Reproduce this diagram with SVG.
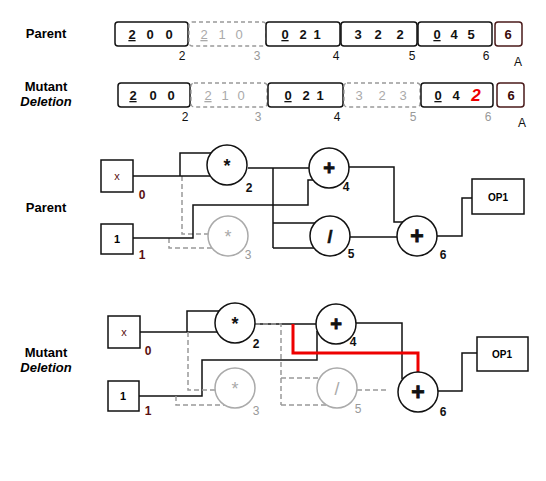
<svg xmlns="http://www.w3.org/2000/svg" width="546" height="481" viewBox="0 0 546 481">
<style>
text{font-family:"Liberation Sans",Arial,sans-serif}
.lbl{font-size:13px;font-weight:bold;text-anchor:middle}
.gene{fill:#fff;stroke:#111;stroke-width:1.5}
.gA{fill:#fff;stroke:#4a1a1a;stroke-width:1.5}
.gdel{fill:none;stroke:#999;stroke-width:1.3;stroke-dasharray:4 3}
.gt{font-size:13px;font-weight:bold;text-anchor:middle;fill:#111}
.gtA{font-size:13px;font-weight:bold;text-anchor:middle;fill:#3a0a0a}
.gtd{font-size:13px;text-anchor:middle;fill:#aaa}
.num{font-size:12px;text-anchor:middle;fill:#111}
.numd{font-size:12px;text-anchor:middle;fill:#999}
.op{fill:#fff;stroke:#111;stroke-width:1.5}
.opd{fill:#fff;stroke:#aaa;stroke-width:1.5}
.sym{font-size:18px;font-weight:bold;text-anchor:middle;fill:#111}
.plus{font-weight:bold;text-anchor:middle;fill:#111;stroke:#111;stroke-width:0.8}
.symd{font-size:18px;text-anchor:middle;fill:#aaa}
.nl{font-size:12px;font-weight:bold;text-anchor:middle;fill:#111}
.nlr{font-size:12px;font-weight:bold;text-anchor:middle;fill:#5a1010}
.nld{font-size:12px;text-anchor:middle;fill:#999}
.w{fill:none;stroke:#111;stroke-width:1.5}
.wd{fill:none;stroke:#999;stroke-width:1.5;stroke-dasharray:5 3}
.wr{fill:none;stroke:#e00;stroke-width:3}
</style>

<!-- row labels -->
<text class="lbl" x="46" y="38">Parent</text>
<text class="lbl" x="46" y="91">Mutant</text>
<text class="lbl" x="46" y="106" font-style="italic">Deletion</text>
<text class="lbl" x="46" y="212">Parent</text>
<text class="lbl" x="46" y="357">Mutant</text>
<text class="lbl" x="46" y="372" font-style="italic">Deletion</text>

<!-- Parent genome -->
<g id="parent-genome">
  <rect class="gene" x="115" y="22" width="73" height="24" rx="3"/>
  <text class="gt" y="39"><tspan x="132" text-decoration="underline">2</tspan><tspan x="150">0</tspan><tspan x="169">0</tspan></text>
  <rect class="gdel" x="189" y="22" width="77" height="24" rx="3"/>
  <text class="gtd" y="39"><tspan x="204" text-decoration="underline">2</tspan><tspan x="222">1</tspan><tspan x="239">0</tspan></text>
  <rect class="gene" x="266" y="22" width="74" height="24" rx="3"/>
  <text class="gt" y="39"><tspan x="285" text-decoration="underline">0</tspan><tspan x="303">2</tspan><tspan x="317">1</tspan></text>
  <rect class="gene" x="341" y="22" width="76" height="24" rx="3"/>
  <text class="gt" y="39"><tspan x="358">3</tspan><tspan x="378">2</tspan><tspan x="400">2</tspan></text>
  <rect class="gene" x="418" y="22" width="74" height="24" rx="3"/>
  <text class="gt" y="39"><tspan x="437" text-decoration="underline">0</tspan><tspan x="454">4</tspan><tspan x="471">5</tspan></text>
  <rect class="gA" x="495" y="22" width="27" height="24" rx="3"/>
  <text class="gtA" x="508" y="39">6</text>
  <text class="num" x="182" y="60">2</text>
  <text class="numd" x="257" y="60">3</text>
  <text class="num" x="336" y="60">4</text>
  <text class="num" x="412" y="60">5</text>
  <text class="num" x="486" y="60">6</text>
  <text class="num" x="518" y="66" font-size="13">A</text>
</g>

<!-- Mutant genome -->
<g id="mutant-genome">
  <rect class="gene" x="118" y="83" width="72" height="24" rx="3"/>
  <text class="gt" y="100"><tspan x="133" text-decoration="underline">2</tspan><tspan x="153">0</tspan><tspan x="171">0</tspan></text>
  <rect class="gdel" x="191" y="83" width="76" height="24" rx="3"/>
  <text class="gtd" y="100"><tspan x="208" text-decoration="underline">2</tspan><tspan x="225">1</tspan><tspan x="241">0</tspan></text>
  <rect class="gene" x="268" y="83" width="75" height="24" rx="3"/>
  <text class="gt" y="100"><tspan x="288" text-decoration="underline">0</tspan><tspan x="306">2</tspan><tspan x="320">1</tspan></text>
  <rect class="gdel" x="344" y="83" width="76" height="24" rx="3"/>
  <text class="gtd" y="100"><tspan x="359">3</tspan><tspan x="382">2</tspan><tspan x="403">3</tspan></text>
  <rect class="gene" x="421" y="83" width="72" height="24" rx="3"/>
  <text class="gt" y="100"><tspan x="438" text-decoration="underline">0</tspan><tspan x="456">4</tspan></text>
  <text x="476" y="101" font-size="17" font-weight="bold" font-style="italic" fill="#e00" text-anchor="middle">2</text>
  <rect class="gA" x="497" y="83" width="27" height="24" rx="3"/>
  <text class="gtA" x="511" y="100">6</text>
  <text class="num" x="185" y="121">2</text>
  <text class="numd" x="258" y="121">3</text>
  <text class="num" x="337" y="121">4</text>
  <text class="numd" x="413" y="121">5</text>
  <text class="numd" x="488" y="121">6</text>
  <text class="num" x="522" y="127" font-size="13">A</text>
</g>

<!-- Parent graph connectors -->
<g id="parent-connectors">
  <path class="wd" d="M182,176 V234 H208"/>
  <path class="wd" d="M169,238 V248 H213"/>
  <path class="w" d="M133,176 H210 M180,176 V153 H212"/>
  <path class="w" d="M133,238 H193 V205 H308 V180 H313"/>
  <path class="w" d="M248,168 H309 M273,168 V248 M273,223 H315 M273,248 H314"/>
  <path class="w" d="M349,167 H394 V222 H403"/>
  <path class="w" d="M350,237 H397"/>
  <path class="w" d="M437,236 H462 V198 H472"/>
</g>

<g id="p-n0"><rect class="op" x="101" y="160" width="32" height="32"/><text x="117" y="180" font-size="11" text-anchor="middle" fill="#5a1010">x</text><text class="nlr" x="142" y="199">0</text></g>
<g id="p-n1"><rect class="op" x="101" y="224" width="32" height="30"/><text x="117" y="243" font-size="11" font-weight="bold" text-anchor="middle">1</text><text class="nlr" x="142" y="259">1</text></g>
<g id="p-n2"><circle class="op" cx="227" cy="165" r="20"/><text class="sym" x="227" y="172">*</text><text class="nl" x="249" y="192">2</text></g>
<g id="p-n3"><circle class="opd" cx="228" cy="236" r="20"/><text class="symd" x="228" y="243">*</text><text class="nld" x="248" y="259">3</text></g>
<g id="p-n4"><circle class="op" cx="329" cy="168" r="20"/><text class="plus" x="329" y="175" font-size="20">+</text><text class="nl" x="346" y="191">4</text></g>
<g id="p-n5"><circle class="op" cx="330" cy="236" r="20"/><text class="sym" x="330" y="243" font-size="20" stroke="#111" stroke-width="0.6">/</text><text class="nl" x="351" y="258">5</text></g>
<g id="p-n6"><circle class="op" cx="417" cy="236" r="20"/><text class="plus" x="417" y="244" font-size="23">+</text><text class="nl" x="443" y="259">6</text></g>
<g id="p-op1"><rect class="op" x="472" y="179" width="52" height="35"/><text x="498" y="201" font-size="10" font-weight="bold" text-anchor="middle">OP1</text></g>

<!-- Mutant graph connectors -->
<g id="mutant-connectors">
  <path class="w" d="M140,332 H217 M187,332 V311 H219"/>
  <path class="w" d="M139,396 H202 V360 H317 V331"/>
  <path class="w" d="M255,324 H316"/>
  <path class="wd" d="M188,332 V390 H215"/>
  <path class="wd" d="M176,396 V405 H225"/>
  <path class="wd" d="M255,324 H281 V405 M281,378 H320 M281,405 H327"/>
  <path class="wd" d="M357,390 H388"/>
  <path class="w" d="M356,323 H402 V379"/>
  <path class="w" d="M438,391 H462 V353 H477"/>
  <path class="wr" d="M293,324 V353 H418 V372"/>
</g>

<g id="m-n0"><rect class="op" x="108" y="316" width="32" height="32"/><text x="124" y="336" font-size="11" text-anchor="middle" fill="#5a1010">x</text><text class="nlr" x="148" y="355">0</text></g>
<g id="m-n1"><rect class="op" x="108" y="381" width="31" height="30"/><text x="123" y="400" font-size="11" font-weight="bold" text-anchor="middle">1</text><text class="nlr" x="148" y="415">1</text></g>
<g id="m-n2"><circle class="op" cx="235" cy="323" r="20"/><text class="sym" x="235" y="330">*</text><text class="nl" x="256" y="348">2</text></g>
<g id="m-n3"><circle class="opd" cx="235" cy="388" r="20"/><text class="symd" x="235" y="395">*</text><text class="nld" x="256" y="415">3</text></g>
<g id="m-n4"><circle class="op" cx="336" cy="324" r="20"/><text class="plus" x="336" y="331" font-size="20">+</text><text class="nl" x="353" y="346">4</text></g>
<g id="m-n5"><circle class="opd" cx="337" cy="388" r="20"/><text class="symd" x="337" y="395" font-size="20">/</text><text class="nld" x="358" y="413">5</text></g>
<g id="m-n6"><circle class="op" cx="418" cy="392" r="20"/><text class="plus" x="418" y="400" font-size="23">+</text><text class="nl" x="443" y="416">6</text></g>
<g id="m-op1"><rect class="op" x="477" y="337" width="51" height="34"/><text x="502" y="358" font-size="10" font-weight="bold" text-anchor="middle">OP1</text></g>
</svg>
